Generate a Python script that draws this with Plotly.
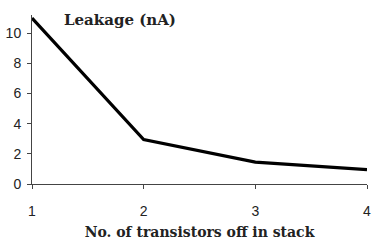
import plotly.graph_objects as go

x_vals = [1, 2, 3, 4]
leakage = [11.0, 2.95, 1.45, 0.95]
x_ticks = [1, 2, 3, 4]
y_ticks = [0, 2, 4, 6, 8, 10]

SERIF = "DejaVu Serif"

fig = go.Figure()
fig.add_trace(go.Scatter(x=x_vals, y=leakage, mode="lines",
                         line=dict(color="black", width=3.2)))

W, H = 377, 244
ml, mr, mt, mb = 30, 6, 15, 60
fig.update_layout(
    width=W, height=H,
    margin=dict(l=ml, r=mr, t=mt, b=mb),
    paper_bgcolor="white", plot_bgcolor="white",
    showlegend=False,
    xaxis=dict(range=[1, 4], tickvals=x_ticks, showgrid=False, zeroline=False,
               showline=True, linecolor="#444", linewidth=1,
               ticks="outside", ticklen=4, tickcolor="#444",
               ticklabelstandoff=10,
               tickfont=dict(family="Liberation Sans", size=14, color="#222"),
               title=dict(text="<b>No. of transistors off in stack</b>",
                          font=dict(family=SERIF, size=14, color="#222"),
                          standoff=9)),
    yaxis=dict(range=[0, 11.2], tickvals=y_ticks, showgrid=False, zeroline=False,
               showline=True, linecolor="#444", linewidth=1,
               ticks="outside", ticklen=4, tickcolor="#444",
               ticklabelstandoff=3,
               tickfont=dict(family="Liberation Sans", size=14, color="#222")),
)
fig.add_annotation(text="<b>Leakage (nA)</b>", xref="paper", yref="paper",
                   x=(120 - ml) / (W - ml - mr), y=(H - mb - 20) / (H - mt - mb),
                   showarrow=False, xanchor="center", yanchor="middle",
                   font=dict(family=SERIF, size=15, color="#222"))
fig.write_html("out.html")
